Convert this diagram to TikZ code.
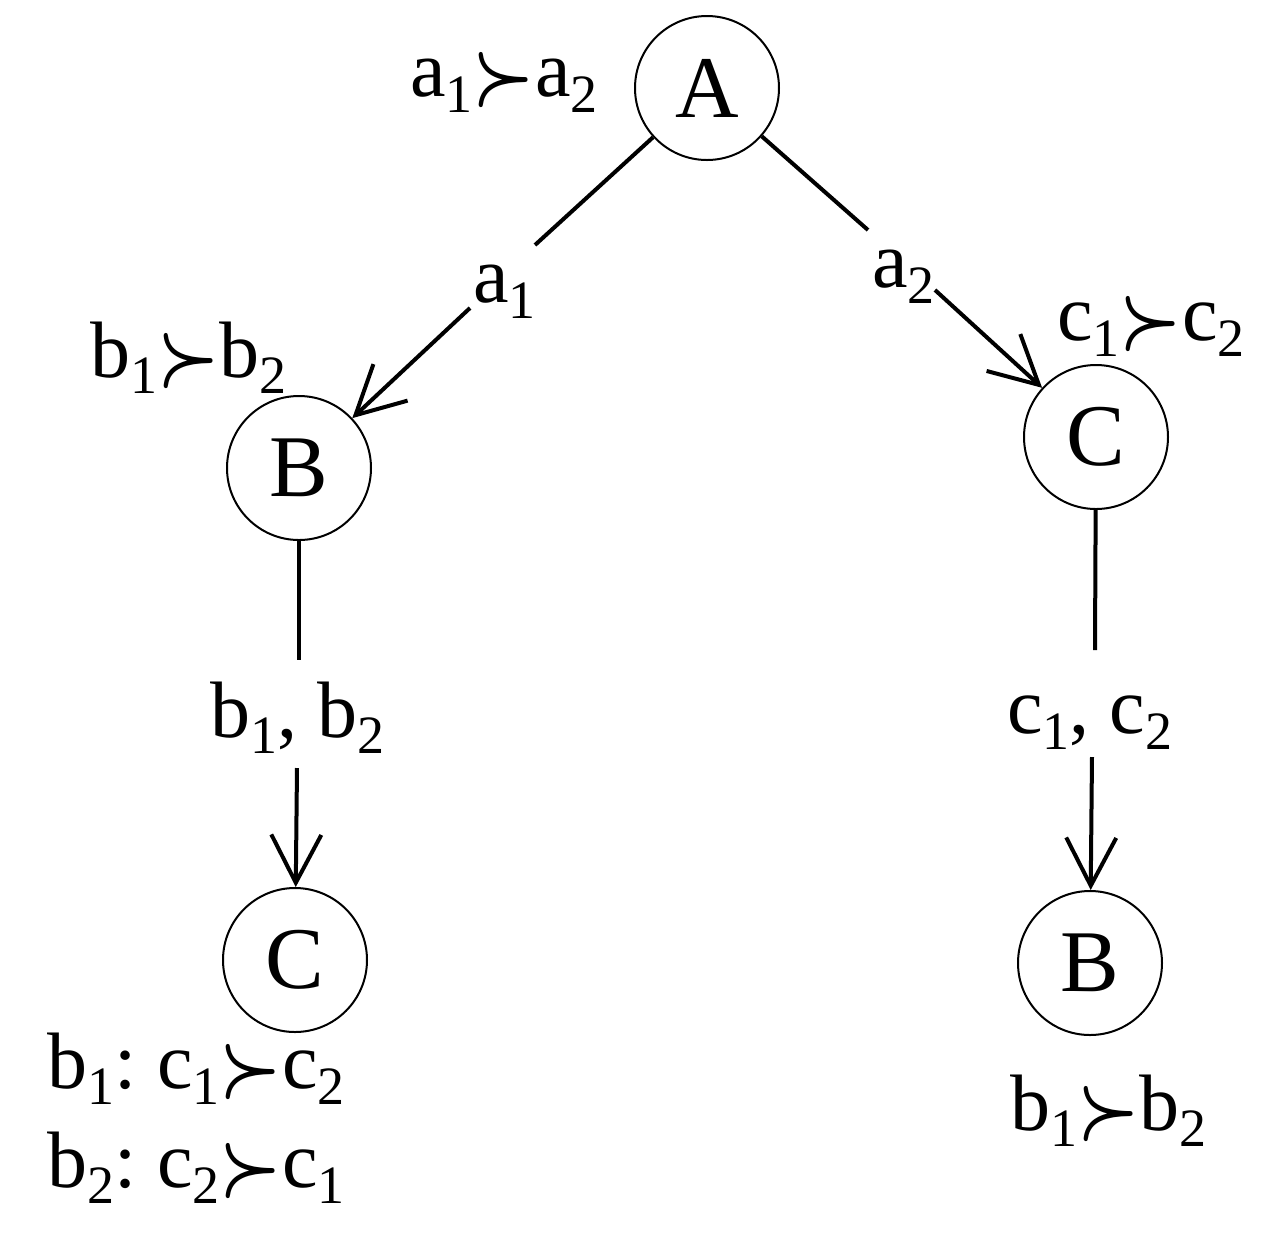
\documentclass[tikz,border=0pt]{standalone}
\usepackage{fontspec}
\usepackage{graphicx}
\setmainfont{Liberation Serif}
\usetikzlibrary{arrows.meta}
\newcommand\lo[1]{\raisebox{-0.2em}{\fontsize{27}{27}\selectfont #1}}
\newcommand\pref{\raisebox{-2pt}{\scalebox{1.4}[1.65]{\boldmath$\succ$}}}
\begin{document}
\begin{tikzpicture}[x=0.5pt,y=-0.5pt,
  st/.style={circle,draw,line width=1pt,minimum size=72pt,inner sep=0pt,font=\fontsize{44}{44}\selectfont},
  lab/.style={anchor=base west,inner sep=0pt,font=\fontsize{40}{40}\selectfont},
  seg/.style={line width=2pt},
  arr/.style={line width=2pt,-{Straight Barb[length=24pt,width=25pt,line width=2pt]}}]
\useasboundingbox (0,0) rectangle (1271,1250);
\node[st] (A) at (707,88) {A};
\node[st] (B1) at (299,468) {B};
\node[st] (C1) at (1096,437) {C};
\node[st] (C2) at (295,960) {C};
\node[st] (B2) at (1090,963) {B};
% gap coordinates
\coordinate (p1) at (535,245);
\coordinate (p2) at (470,308);
\coordinate (q1) at (868,230);
\coordinate (q2) at (935,290);
\coordinate (r1) at (299,660);
\coordinate (r2) at (297,768);
\coordinate (s1) at (1095,650);
\coordinate (s2) at (1092,757);
\draw[seg] (A) -- (p1);
\draw[arr] (p2) -- (B1);
\draw[seg] (A) -- (q1);
\draw[arr] (q2) -- (C1);
\draw[seg] (B1) -- (r1);
\draw[arr] (r2) -- (C2);
\draw[seg] (C1) -- (s1);
\draw[arr] (s2) -- (B2);
% labels
\node[lab] (t1) at (410,96) {a\lo{1}\pref a\lo{2}};
\node[lab] (t2) at (473,302) {a\lo{1}};
\node[lab] (t3) at (872,287) {a\lo{2}};
\node[lab] (t4) at (90,377) {b\lo{1}\pref b\lo{2}};
\node[lab] (t5) at (1057,340) {c\lo{1}\pref c\lo{2}};
\node[lab] (t6) at (210,737) {b\lo{1}, b\lo{2}};
\node[lab] (t7) at (1007,733) {c\lo{1}, c\lo{2}};
\node[lab] (t8) at (47,1088) {b\lo{1}:\hspace{-3pt} c\lo{1}\pref c\lo{2}};
\node[lab] (t9) at (47,1187) {b\lo{2}:\hspace{-3pt} c\lo{2}\pref c\lo{1}};
\node[lab] (t10) at (1010,1130) {b\lo{1}\pref b\lo{2}};
\end{tikzpicture}
\end{document}
